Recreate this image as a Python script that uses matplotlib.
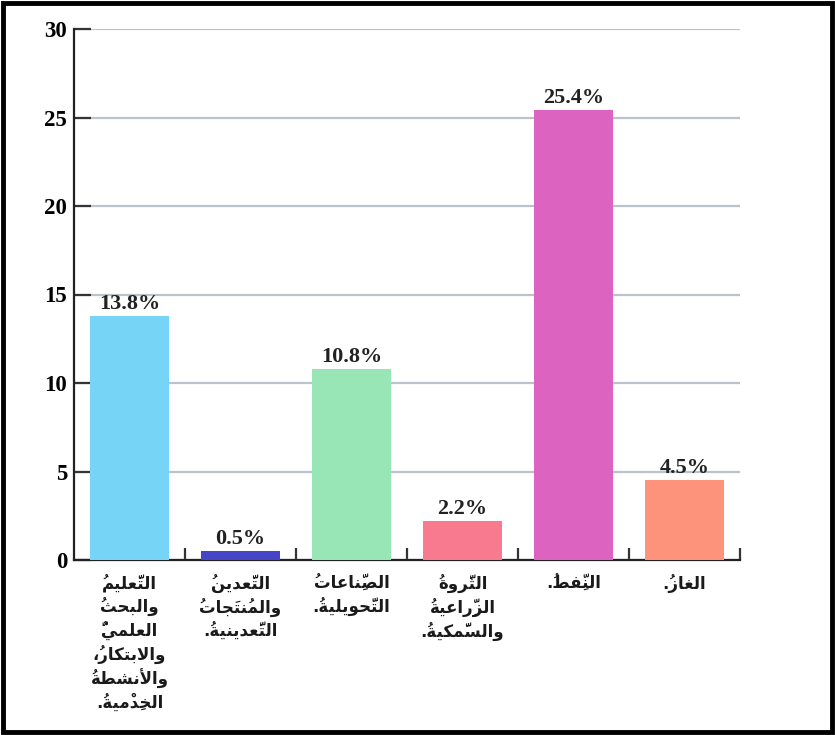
import matplotlib
matplotlib.use("Agg")
import matplotlib.pyplot as plt
from matplotlib.patches import Rectangle
from matplotlib.ticker import FixedLocator

# ---------------- data ----------------
categories = [
    "التَّعليمُ\nوالبحثُ\nالعلميُّ\nوالابتكارُ،\nوالأنشطةُ\nالخِدْميةُ.",
    "التَّعدينُ\nوالمُنتَجاتُ\nالتَّعدينيةُ.",
    "الصِّناعاتُ\nالتَّحويليةُ.",
    "الثَّروةُ\nالزِّراعيةُ\nوالسَّمكيةُ.",
    "النِّفطُ.",
    "الغازُ.",
]
values = [13.8, 0.5, 10.8, 2.2, 25.4, 4.5]
value_labels = ["13.8%", "0.5%", "10.8%", "2.2%", "25.4%", "4.5%"]
colors = ["#76D5F6", "#4545C8", "#98E6B5", "#F77A8E", "#DD63C1", "#FC937A"]
yticks = [0, 5, 10, 15, 20, 25, 30]

# ------------- minimal Arabic shaping (presentation forms + RTL) -------------
FORMS = {
    'ء': (0xFE80, None, None, None), 'آ': (0xFE81, 0xFE82, None, None),
    'أ': (0xFE83, 0xFE84, None, None), 'ؤ': (0xFE85, 0xFE86, None, None),
    'إ': (0xFE87, 0xFE88, None, None), 'ئ': (0xFE89, 0xFE8A, 0xFE8B, 0xFE8C),
    'ا': (0xFE8D, 0xFE8E, None, None), 'ب': (0xFE8F, 0xFE90, 0xFE91, 0xFE92),
    'ة': (0xFE93, 0xFE94, None, None), 'ت': (0xFE95, 0xFE96, 0xFE97, 0xFE98),
    'ث': (0xFE99, 0xFE9A, 0xFE9B, 0xFE9C), 'ج': (0xFE9D, 0xFE9E, 0xFE9F, 0xFEA0),
    'ح': (0xFEA1, 0xFEA2, 0xFEA3, 0xFEA4), 'خ': (0xFEA5, 0xFEA6, 0xFEA7, 0xFEA8),
    'د': (0xFEA9, 0xFEAA, None, None), 'ذ': (0xFEAB, 0xFEAC, None, None),
    'ر': (0xFEAD, 0xFEAE, None, None), 'ز': (0xFEAF, 0xFEB0, None, None),
    'س': (0xFEB1, 0xFEB2, 0xFEB3, 0xFEB4), 'ش': (0xFEB5, 0xFEB6, 0xFEB7, 0xFEB8),
    'ص': (0xFEB9, 0xFEBA, 0xFEBB, 0xFEBC), 'ض': (0xFEBD, 0xFEBE, 0xFEBF, 0xFEC0),
    'ط': (0xFEC1, 0xFEC2, 0xFEC3, 0xFEC4), 'ظ': (0xFEC5, 0xFEC6, 0xFEC7, 0xFEC8),
    'ع': (0xFEC9, 0xFECA, 0xFECB, 0xFECC), 'غ': (0xFECD, 0xFECE, 0xFECF, 0xFED0),
    'ف': (0xFED1, 0xFED2, 0xFED3, 0xFED4), 'ق': (0xFED5, 0xFED6, 0xFED7, 0xFED8),
    'ك': (0xFED9, 0xFEDA, 0xFEDB, 0xFEDC), 'ل': (0xFEDD, 0xFEDE, 0xFEDF, 0xFEE0),
    'م': (0xFEE1, 0xFEE2, 0xFEE3, 0xFEE4), 'ن': (0xFEE5, 0xFEE6, 0xFEE7, 0xFEE8),
    'ه': (0xFEE9, 0xFEEA, 0xFEEB, 0xFEEC), 'و': (0xFEED, 0xFEEE, None, None),
    'ى': (0xFEEF, 0xFEF0, None, None), 'ي': (0xFEF1, 0xFEF2, 0xFEF3, 0xFEF4),
}
LAMALEF = {'آ': (0xFEF5, 0xFEF6), 'أ': (0xFEF7, 0xFEF8),
           'إ': (0xFEF9, 0xFEFA), 'ا': (0xFEFB, 0xFEFC)}
HARAKAT = set(chr(c) for c in range(0x064B, 0x0653)) | {'\u0670'}


def _joins_next(c):
    return c in FORMS and FORMS[c][2] is not None


def _joins_prev(c):
    return c in FORMS and FORMS[c][1] is not None


def shape_line(text):
    clusters = []
    for ch in text:
        if ch in HARAKAT and clusters:
            clusters[-1][1].append(ch)
        else:
            clusters.append([ch, []])
    out = []
    n = len(clusters)
    i = 0
    while i < n:
        base, marks = clusters[i]
        prev = clusters[i - 1][0] if i > 0 else None
        if base == 'ل' and i + 1 < n and clusters[i + 1][0] in LAMALEF:
            jp = prev is not None and _joins_next(prev)
            glyph = chr(LAMALEF[clusters[i + 1][0]][1 if jp else 0])
            out.append((glyph, marks + clusters[i + 1][1]))
            i += 2
            continue
        if base in FORMS:
            iso, fin, ini, med = FORMS[base]
            jp = prev is not None and _joins_next(prev) and fin is not None
            jn = ini is not None and i + 1 < n and _joins_prev(clusters[i + 1][0])
            if jp and jn:
                g = med
            elif jp:
                g = fin
            elif jn:
                g = ini
            else:
                g = iso
            out.append((chr(g), marks))
        else:
            out.append((base, marks))
        i += 1
    # visual (left-to-right) order; zero-width marks placed before their base
    return ''.join(''.join(m) + g for g, m in reversed(out))


def shape(text):
    return '\n'.join(shape_line(l) for l in text.split('\n'))


# ---------------- figure ----------------
W, H = 835, 735
fig = plt.figure(figsize=(W / 100, H / 100), dpi=100)
ax = fig.add_axes([74 / W, 1 - 560 / H, (740 - 74) / W, (560 - 29) / H])

x = list(range(len(values)))
bars = ax.bar(x, values, width=0.72, color=colors, zorder=3)

ax.set_xlim(-0.5, len(values) - 0.5)
ax.set_ylim(0, 30)

ax.set_yticks(yticks)
ax.set_yticklabels([str(t) for t in yticks], fontfamily='Liberation Serif',
                   fontweight='bold', fontsize=16.5)
ax.yaxis.grid(True, color='#B9C3CD', linewidth=1.6, zorder=0)
ax.set_axisbelow(True)
ax.tick_params(axis='y', direction='in', length=12, width=1.6,
               color='#333333', pad=5)

ax.set_xticks(x)
ax.set_xticklabels([shape(c) for c in categories], fontfamily='DejaVu Sans',
                   fontweight='bold', fontsize=12, linespacing=1.32,
                   va='top', ha='center', color='#1a1a1a')
ax.tick_params(axis='x', which='major', length=0, pad=10)
ax.xaxis.set_minor_locator(FixedLocator([i + 0.5 for i in x]))
ax.tick_params(axis='x', which='minor', direction='in', length=9, width=1.6,
               color='#333333')

for s in ['top', 'right']:
    ax.spines[s].set_visible(False)
for s in ['left', 'bottom']:
    ax.spines[s].set_linewidth(1.6)
    ax.spines[s].set_color('#222222')

for xi, v, lab in zip(x, values, value_labels):
    ax.annotate(lab, (xi, v), xytext=(0, 1.5), textcoords='offset points',
                ha='center', va='bottom', fontfamily='Liberation Serif',
                fontweight='bold', fontsize=16, color='#222222', zorder=4)

# outer frame
fig.patches.append(Rectangle((3 / W, 3 / H), 1 - 6 / W, 1 - 6 / H,
                             transform=fig.transFigure, fill=False,
                             edgecolor='black', linewidth=3.5))

fig.savefig('out.png', dpi=100)
